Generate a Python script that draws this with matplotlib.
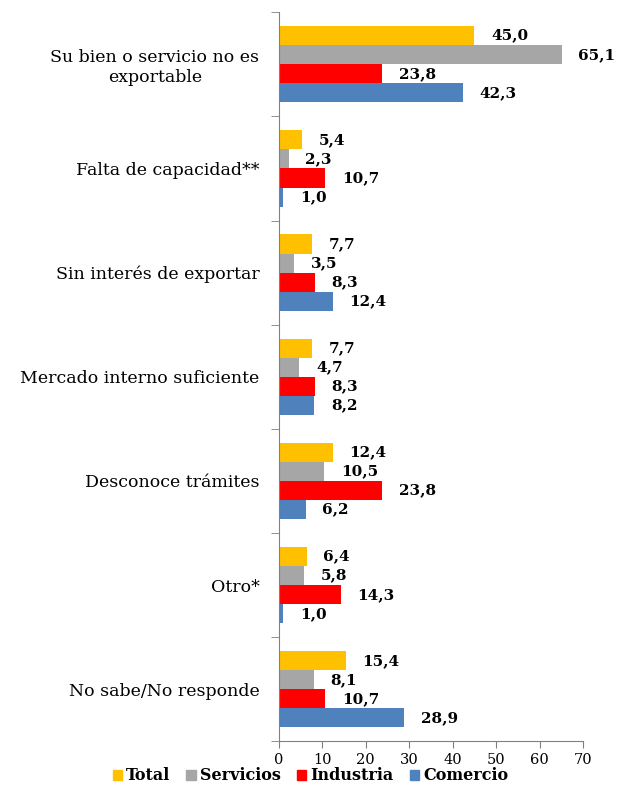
import numpy as np
import matplotlib
matplotlib.use("Agg")
import matplotlib.pyplot as plt
from matplotlib.patches import Patch

categories = ["Su bien o servicio no es\nexportable", "Falta de capacidad**",
              "Sin interés de exportar", "Mercado interno suficiente",
              "Desconoce trámites", "Otro*", "No sabe/No responde"]
series = ["Total", "Servicios", "Industria", "Comercio"]
total = [45.0, 5.4, 7.7, 7.7, 12.4, 6.4, 15.4]
servicios = [65.1, 2.3, 3.5, 4.7, 10.5, 5.8, 8.1]
industria = [23.8, 10.7, 8.3, 8.3, 23.8, 14.3, 10.7]
comercio = [42.3, 1.0, 12.4, 8.2, 6.2, 1.0, 28.9]
colors = ["#FFC000", "#A6A6A6", "#FF0000", "#4F81BD"]
xticks = [0, 10, 20, 30, 40, 50, 60, 70]

plt.rcParams["font.family"] = ["DejaVu Serif"]
fig = plt.figure(figsize=(6.21, 7.85), dpi=100)
ax = fig.add_axes([0.449, 0.0555, 0.49, 0.929])

n = len(categories)
h = 0.183
y0 = np.arange(n)
for k, (vals, c) in enumerate(zip([total, servicios, industria, comercio], colors)):
    ys = y0 - 1.5 * h + k * h
    ax.barh(ys, vals, height=h, color=c, edgecolor="none")
    for yy, v in zip(ys, vals):
        ax.annotate(f"{v:.1f}".replace(".", ","), (v, yy), xytext=(12, 0),
                    textcoords="offset points", ha="left", va="center",
                    fontsize=11, fontweight="bold")

ax.set_ylim(n - 0.5, -0.5)
ax.set_xlim(0, 70)
ax.set_xticks(xticks)
ax.set_yticks(y0)
ax.set_yticklabels(categories, fontsize=12.5, ha="right", multialignment="center")
ax.tick_params(axis="y", length=0, pad=14)
ax.set_yticks(np.arange(-0.5, n, 1), minor=True)
ax.tick_params(axis="y", which="minor", length=6, direction="out", color="#808080")
ax.tick_params(axis="x", length=5, direction="out", color="#808080", labelsize=10.5, pad=3)
for s in ["top", "right"]:
    ax.spines[s].set_visible(False)
for s in ["left", "bottom"]:
    ax.spines[s].set_color("#808080")

handles = [Patch(color=c) for c in colors]
leg = fig.legend(handles, series, loc="center", bbox_to_anchor=(0.5, 1 - 776 / 785), ncol=4,
                 frameon=False, handlelength=0.6, handleheight=0.6, handletextpad=0.25,
                 columnspacing=1.0, borderpad=0, prop={"weight": "bold", "size": 11.5})

fig.savefig("out.png", dpi=100)
